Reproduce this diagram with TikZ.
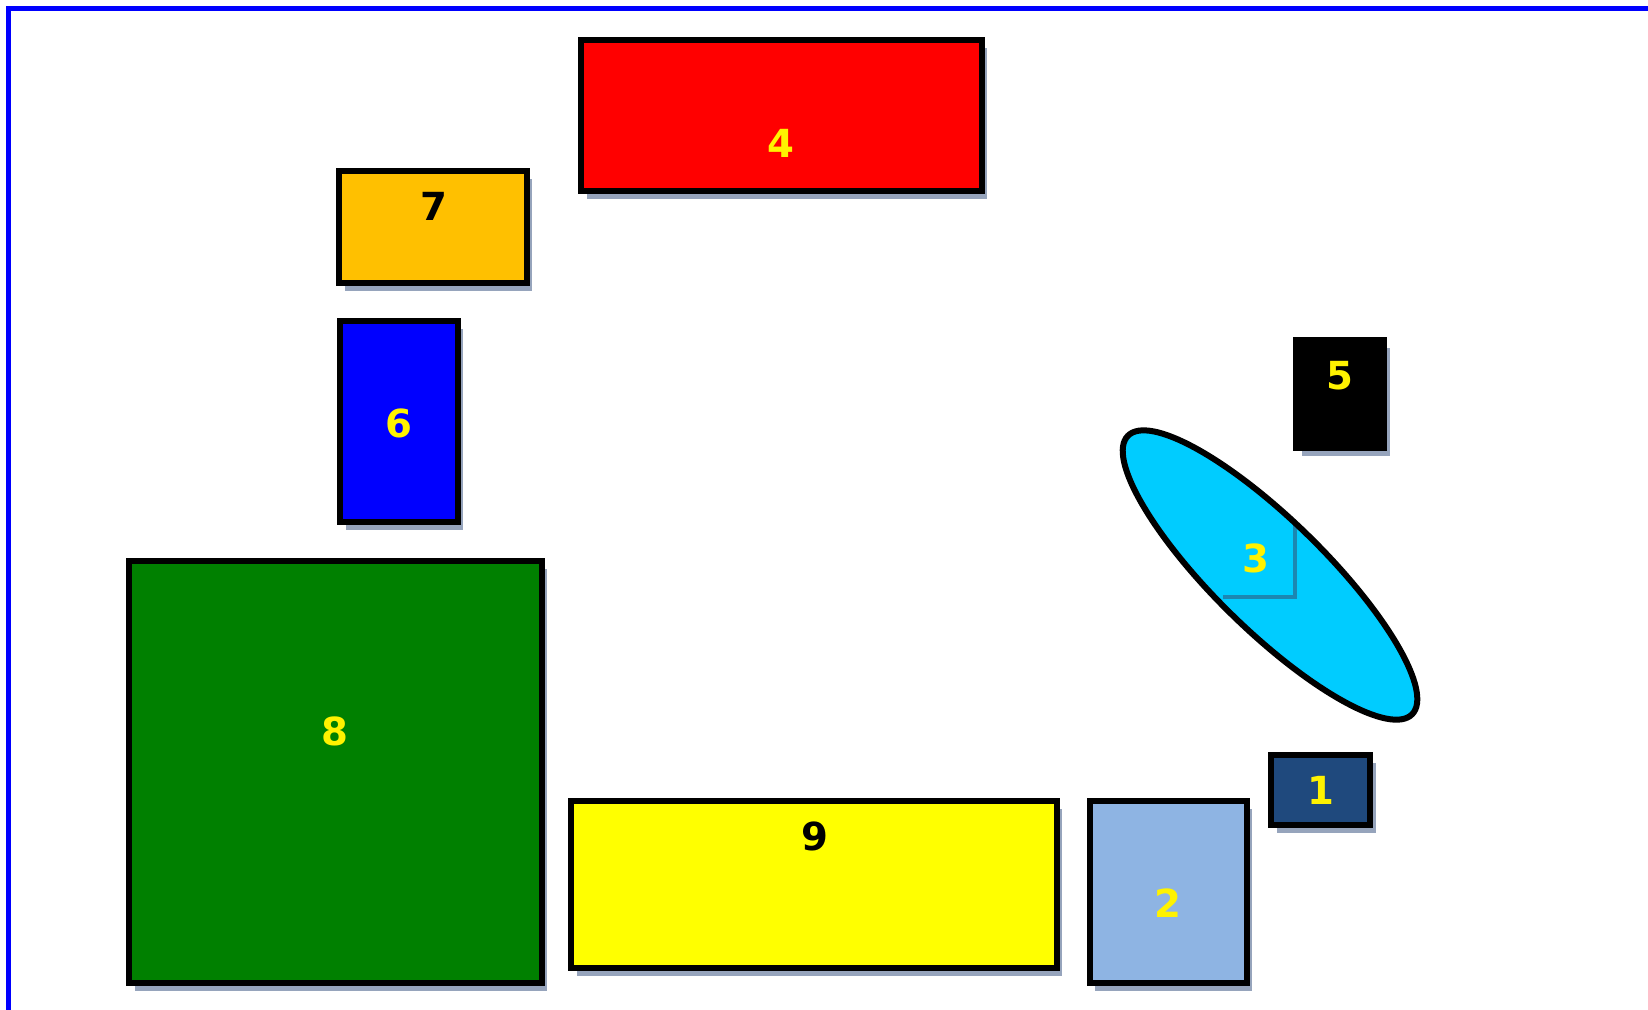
\documentclass[tikz,border=0pt]{standalone}
\usepackage{fontspec}
\setmainfont{DejaVu Sans}
\usetikzlibrary{shapes.geometric, shadows}
\definecolor{redfill}{RGB}{255,0,0}
\definecolor{amberfill}{RGB}{255,192,0}
\definecolor{bluefill}{RGB}{0,0,255}
\definecolor{greenfill}{RGB}{0,128,0}
\definecolor{yellowfill}{RGB}{255,255,0}
\definecolor{steelfill}{RGB}{142,180,227}
\definecolor{navyfill}{RGB}{31,73,125}
\definecolor{skyfill}{RGB}{0,204,255}
\definecolor{shadowgray}{RGB}{150,164,188}
\definecolor{skyshadow}{RGB}{28,135,178}

\begin{document}
\begin{tikzpicture}[
  x=0.02cm, y=-0.02cm,
  every node/.style={font=\fontsize{22pt}{26pt}\selectfont\bfseries, text=yellow},
  block/.style={rectangle, draw=black, line width=0.12cm, inner sep=0pt,
                drop shadow={shadow xshift=0.11cm, shadow yshift=-0.16cm,
                             fill=shadowgray, opacity=1}},
  oval/.style={ellipse, inner sep=0pt, rotate=-44.4},
  num/.style={inner sep=0pt},
  tag/.style={rectangle, inner sep=0pt, minimum size=1.48cm, fill=skyfill,
              drop shadow={shadow xshift=0.08cm, shadow yshift=-0.08cm,
                           fill=skyshadow, opacity=1}}
]
\useasboundingbox (0,0) rectangle (1648,1009);
\draw[blue, line width=0.1cm] (8.5,8.5) rectangle (1700,1013);

% boxes
\node[block, fill=redfill, minimum width=8.02cm, minimum height=3.04cm] (b4) at (781.5,115.5) {};
\node[block, fill=amberfill, minimum width=3.76cm, minimum height=2.24cm] (b7) at (433,227) {};
\node[block, fill=bluefill, minimum width=2.36cm, minimum height=4.02cm] (b6) at (399,421.5) {};
\node[block, fill=greenfill, minimum width=8.26cm, minimum height=8.44cm] (b8) at (335.5,772) {};
\node[block, fill=yellowfill, minimum width=9.72cm, minimum height=3.34cm] (b9) at (814,884.5) {};
\node[block, fill=steelfill, minimum width=3.14cm, minimum height=3.64cm] (b2) at (1168,892) {};
\node[block, fill=navyfill, minimum width=1.98cm, minimum height=1.4cm] (b1) at (1320.5,790) {};
\node[block, fill=black, minimum width=1.76cm, minimum height=2.16cm] (b5) at (1340,394) {};
\node[oval, fill=skyfill, minimum width=7.96cm, minimum height=2.2cm] (e3) at (1270,575) {};

% labels
\node[num] (t4) at (781,143) {4};
\node[num, text=black] (t7) at (434,206) {7};
\node[num] (t6) at (399,423) {6};
\node[num] (t8) at (335,731) {8};
\node[num, text=black] (t9) at (815,836) {9};
\node[num] (t2) at (1168,903) {2};
\node[num] (t1) at (1321,790) {1};
\node[num] (t5) at (1340,376) {5};
\node[tag] (t3) at (1256,558) {3};

\draw[line width=0.12cm, rotate around={-44.4:(e3.center)}]
  (e3.center) ellipse [x radius=3.98cm, y radius=1.1cm];
\end{tikzpicture}
\end{document}
